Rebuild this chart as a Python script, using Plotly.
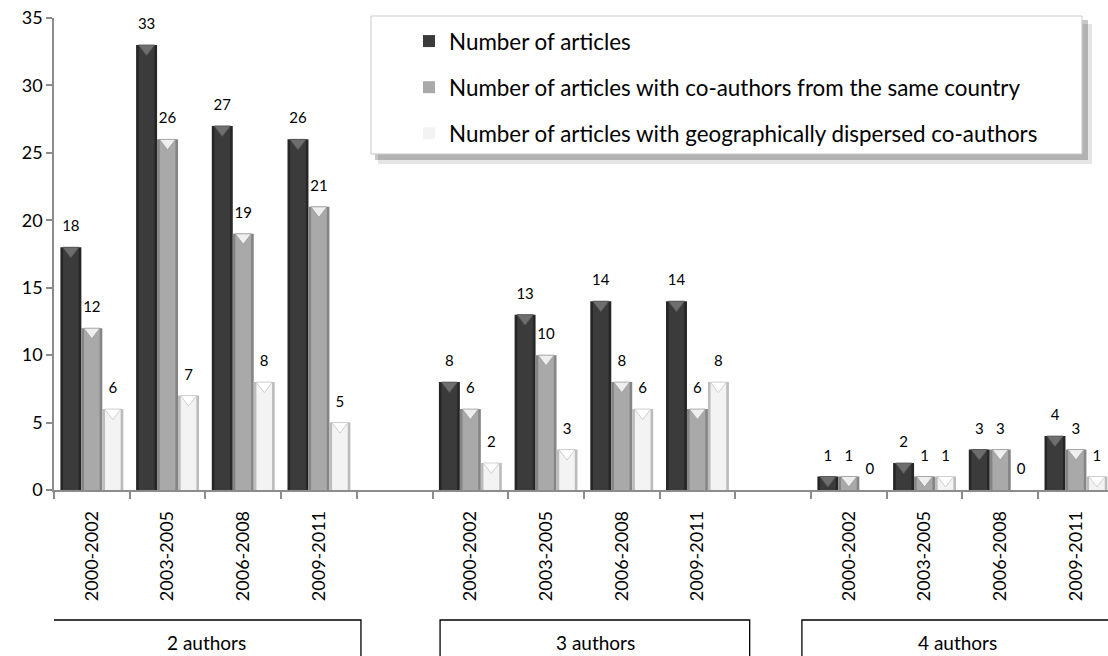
import plotly.graph_objects as go

# ---------------- data ----------------
periods = ["2000-2002", "2003-2005", "2006-2008", "2009-2011"]
groups = ["2 authors", "3 authors", "4 authors"]
series_names = [
    "Number of articles",
    "Number of articles with co-authors from the same country",
    "Number of articles with geographically dispersed co-authors",
]
articles = [18, 33, 27, 26, 8, 13, 14, 14, 1, 2, 3, 4]
same_country = [12, 26, 19, 21, 6, 10, 8, 6, 1, 1, 3, 3]
dispersed = [6, 7, 8, 5, 2, 3, 6, 8, 0, 1, 0, 1]

# ---------------- styles ----------------
FONT = "Lato, 'Open Sans', sans-serif"
W, H = 1108, 656
ML, MR, MT, MB = 54, 0, 18, 166
SLOT_PX = 75.7
plot_w = W - ML - MR
plot_h = H - MT - MB
X0_REF = ML
Y0_REF = MT + plot_h
Y_MAX = 35
x_range = [-0.5, -0.5 + plot_w / SLOT_PX]
units_per_px = Y_MAX / plot_h

BW = 0.277           # single bar width (data units)
GROUP_START = -0.4155
INSET = 0.035
main_colors = ["#3b3b3b", "#a9a9a9", "#f3f3f3"]
edge_colors = ["#262626", "#858585", "#bcbcbc"]
cap_colors = ["#6e6e6e", "#eeeeee", "#ffffff"]
cap_lines = ["#555555", "#9a9a9a", "#c4c4c4"]
CAP_SIZE = 14


def px_x(p):
    return (p - X0_REF) / plot_w


def px_y(p):
    return (Y0_REF - p) / plot_h


# slot positions: each author-group has 4 periods, one empty slot between groups
slots = [g * 5 + p for g in range(len(groups)) for p in range(len(periods))]
tick_text = [periods[p] for g in range(len(groups)) for p in range(len(periods))]

fig = go.Figure()
all_series = [articles, same_country, dispersed]
for s, vals in enumerate(all_series):
    off = GROUP_START + s * BW
    centers = [x + off + BW / 2 for x in slots]
    fig.add_trace(go.Bar(
        x=slots, y=vals, width=BW, offset=off,
        marker=dict(color=edge_colors[s], line=dict(width=0)),
        showlegend=False, hoverinfo="skip", legendgroup=f"g{s}",
    ))
    fig.add_trace(go.Bar(
        x=slots, y=vals, width=BW - 2 * INSET, offset=off + INSET,
        marker=dict(color=main_colors[s], line=dict(width=0)),
        name=series_names[s], legendgroup=f"g{s}",
    ))
    # bevel cap at the top of every non-zero bar
    cap_shift = (CAP_SIZE / 4) * units_per_px
    fig.add_trace(go.Scatter(
        x=centers, y=[(v - cap_shift) if v > 0 else None for v in vals],
        mode="markers",
        marker=dict(symbol="triangle-down", size=CAP_SIZE, color=cap_colors[s],
                    line=dict(color=cap_lines[s], width=0.8)),
        showlegend=False, hoverinfo="skip", legendgroup=f"g{s}",
    ))
    # data labels
    fig.add_trace(go.Scatter(
        x=centers, y=vals,
        mode="markers+text", text=[str(v) for v in vals],
        textposition="top center",
        textfont=dict(family=FONT, size=15, color="#000000"),
        marker=dict(size=18, opacity=0),
        showlegend=False, hoverinfo="skip", cliponaxis=False,
        legendgroup=f"g{s}",
    ))

# ---------------- group boxes ----------------
box_ranges = [(-0.54, 3.555), (4.60, 8.69), (9.38, 13.57)]
label_x = [1.51, 6.65, 11.43]
shapes = []
annotations = []
for g, (x0, x1) in enumerate(box_ranges):
    shapes.append(dict(type="rect", xref="x", yref="paper", x0=x0, x1=x1,
                       y0=px_y(670), y1=px_y(620),
                       line=dict(color="#000000", width=1.3), fillcolor="rgba(0,0,0,0)"))
    annotations.append(dict(xref="x", yref="paper", x=label_x[g], y=px_y(642),
                            text=groups[g], showarrow=False,
                            font=dict(family=FONT, size=19, color="#000000"),
                            xanchor="center", yanchor="middle"))

# ---------------- legend box with shadow ----------------
shapes.append(dict(type="rect", xref="paper", yref="paper", layer="above",
                   x0=px_x(378), x1=px_x(1092), y0=px_y(164), y1=px_y(24),
                   line=dict(width=0), fillcolor="rgba(0,0,0,0.10)"))
shapes.append(dict(type="rect", xref="paper", yref="paper", layer="above",
                   x0=px_x(375), x1=px_x(1088), y0=px_y(160), y1=px_y(20),
                   line=dict(width=0), fillcolor="rgba(0,0,0,0.22)"))
shapes.append(dict(type="rect", xref="paper", yref="paper", layer="above",
                   x0=px_x(371), x1=px_x(1082), y0=px_y(154), y1=px_y(16),
                   line=dict(color="#c8c8c8", width=1), fillcolor="#ffffff"))

fig.update_layout(
    width=W, height=H,
    margin=dict(l=ML, r=MR, t=MT, b=MB, autoexpand=False),
    paper_bgcolor="#ffffff", plot_bgcolor="#ffffff",
    barmode="overlay",
    font=dict(family=FONT, size=18, color="#000000"),
    shapes=shapes, annotations=annotations,
    legend=dict(
        x=px_x(409), y=px_y(20), xanchor="left", yanchor="top",
        bgcolor="rgba(0,0,0,0)", borderwidth=0,
        font=dict(family=FONT, size=22.4, color="#000000"),
        tracegroupgap=14, traceorder="grouped",
    ),
    xaxis=dict(
        range=x_range, tickmode="array", tickvals=slots, ticktext=tick_text,
        tickangle=-90, ticks="", ticklabelstandoff=12,
        tickfont=dict(family=FONT, size=18, color="#000000"),
        showline=True, linecolor="#8c8c8c", linewidth=1.5,
        showgrid=False, zeroline=False,
        minor=dict(tickmode="array", tickvals=[i - 0.5 for i in range(14)],
                   ticks="outside", ticklen=7, tickcolor="#8c8c8c", tickwidth=1.5),
    ),
    yaxis=dict(
        range=[0, Y_MAX], tickmode="linear", tick0=0, dtick=5,
        ticks="outside", ticklen=6, tickcolor="#8c8c8c", tickwidth=1.5,
        tickfont=dict(family=FONT, size=18, color="#000000"),
        ticklabeloverflow="allow",
        showline=True, linecolor="#8c8c8c", linewidth=1.5,
        showgrid=False, zeroline=False,
    ),
)

# remove the browser's default 8px page margin so the figure fills the window
fig.write_html("out.html",
               config={"displayModeBar": False},
               post_script="document.body.style.margin='0';document.body.style.overflow='hidden';")
